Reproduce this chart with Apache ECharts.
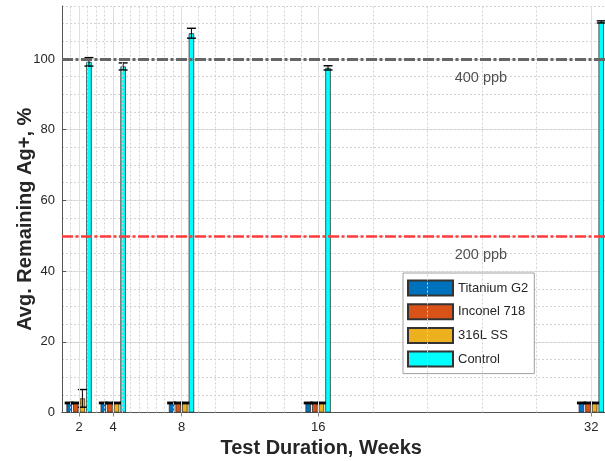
<!DOCTYPE html>
<html><head><meta charset="utf-8">
<script src="https://cdn.jsdelivr.net/npm/echarts@6/dist/echarts.min.js"></script>
<style>html,body{margin:0;padding:0;background:#fff}#c{width:605px;height:461px}</style>
</head><body><div id="c"></div>
<script>
// ---- data ----
const weeks = [2, 4, 8, 16, 32];
const seriesNames = ['Titanium G2', 'Inconel 718', '316L SS', 'Control'];
const titaniumVals = [2.7, 2.7, 2.7, 2.7, 2.7];
const inconelVals  = [2.7, 2.7, 2.7, 2.7, 2.7];
const ssVals       = [4.0, 2.7, 2.7, 2.7, 2.7];
const controlVals  = [99.2, 97.9, 107.3, 97.5, 110.5];
const titaniumErr  = [0.2, 0.2, 0.2, 0.2, 0.2];
const inconelErr   = [0.2, 0.2, 0.2, 0.2, 0.2];
const ssErr        = [2.5, 0.2, 0.2, 0.2, 0.2];
const controlErr   = [1.2, 1.0, 1.4, 0.6, 0.3];
const xTicks = [2, 4, 8, 16, 32];
const xMinorTicks = [1.5, 2.5, 3, 3.5, 4.5, 5, 5.5, 6, 6.5, 7, 7.5, 9, 10, 11, 12, 13, 14, 15, 19.2, 22.4, 25.6, 28.8];
const yTicks = [0, 20, 40, 60, 80, 100];
const refLevels = [100, 50];
const refLabels = ['400 ppb', '200 ppb'];
const refLabelX = [24, 24];
const refLabelY = [94.6, 44.6];

// ---- styles ----
const colors = ['#0072BD', '#D95319', '#EDB120', '#00FFFF'];
const refColors = ['#666666', '#FF3a3a'];
const refWidths = [3, 2.5];
const BAR_W = 5.5, GAP = 0.2;
const barOffsets = [0, 1, 2, 3].map(i => (i - 1.5) * BAR_W * (1 + GAP));
const allVals = [titaniumVals, inconelVals, ssVals, controlVals];
const allErr = [titaniumErr, inconelErr, ssErr, controlErr];
const txt = '#262626';
const FONT = 'Liberation Sans, Arial, sans-serif';

const barSeries = seriesNames.map((n, k) => ({
  name: n, type: 'bar', xAxisIndex: 0, yAxisIndex: 0, z: 3,
  barWidth: BAR_W, barGap: (GAP * 100) + '%',
  data: weeks.map((w, i) => [w, allVals[k][i]]),
  itemStyle: { color: colors[k], borderColor: '#333', borderWidth: 0.8 }
}));

const errSeries = seriesNames.map((n, k) => ({
  name: n + ' err', type: 'custom', xAxisIndex: 0, yAxisIndex: 0, z: 4, silent: true,
  data: weeks.map((w, i) => [w, allVals[k][i], allErr[k][i]]),
  encode: { x: 0, y: 1 },
  renderItem: (params, api) => {
    const x = api.value(0), v = api.value(1), e = api.value(2);
    const t = api.coord([x, v + e]), b = api.coord([x, v - e]);
    const cx = t[0] + barOffsets[k], hw = 4.5;
    const st = { stroke: '#000', lineWidth: 1 };
    return { type: 'group', children: [
      { type: 'line', shape: { x1: cx, y1: t[1], x2: cx, y2: b[1] }, style: st },
      { type: 'line', shape: { x1: cx - hw, y1: t[1], x2: cx + hw, y2: t[1] }, style: { stroke: '#000', lineWidth: 1.4 } },
      { type: 'line', shape: { x1: cx - hw, y1: b[1], x2: cx + hw, y2: b[1] }, style: { stroke: '#000', lineWidth: 1.4 } }
    ]};
  }
}));

const gridSeries = {
  name: 'vgrid', type: 'line', data: [], z: 1, silent: true, xAxisIndex: 0, yAxisIndex: 0,
  markLine: {
    symbol: 'none', silent: true, label: { show: false }, animation: false,
    data: [
      ...xMinorTicks.map(v => ({ xAxis: v, lineStyle: { color: '#d2d2d2', type: [2, 2], width: 1 } })),
      ...xTicks.map(v => ({ xAxis: v, lineStyle: { color: '#e0e0e0', type: 'solid', width: 1 } }))
    ]
  }
};

const refSeries = {
  name: 'ref', type: 'line', data: [], z: 5, silent: true, xAxisIndex: 0, yAxisIndex: 0,
  markLine: {
    symbol: 'none', silent: true, label: { show: false }, animation: false,
    data: refLevels.map((v, i) => ({ yAxis: v, lineStyle: { color: refColors[i], width: refWidths[i], type: [11, 2.5, 3, 2.5] } }))
  }
};

const refTextSeries = {
  name: 'reftext', type: 'scatter', z: 6, silent: true, symbolSize: 0, xAxisIndex: 0, yAxisIndex: 0,
  itemStyle: { color: 'transparent' },
  data: refLabels.map((l, i) => ({ value: [refLabelX[i], refLabelY[i]], label: { formatter: l } })),
  label: { show: true, position: 'right', distance: 0, fontSize: 14.5, color: txt, fontFamily: FONT }
};

const chart = echarts.init(document.getElementById('c'), null, { renderer: 'canvas' });
chart.setOption({
  animation: false,
  backgroundColor: '#fff',
  textStyle: { fontFamily: FONT },
  grid: { left: 62, right: -3.4, top: 6, bottom: 48.5, containLabel: false, outerBoundsMode: 'none' },
  legend: {
    data: seriesNames, orient: 'vertical', left: 403, top: 273,
    itemWidth: 45, itemHeight: 15, itemGap: 6.7, padding: [6.5, 6, 6, 4],
    borderColor: '#a0a0a0', borderWidth: 1, backgroundColor: '#fff',
    textStyle: { fontSize: 13, color: txt, fontFamily: FONT }, icon: 'rect'
  },
  xAxis: [
    {
      type: 'value', position: 'bottom', min: 1, max: 33,
      name: 'Test Duration, Weeks', nameLocation: 'middle', nameGap: 24,
      nameTextStyle: { fontSize: 20, fontWeight: 'bold', color: txt, fontFamily: FONT, padding: [0, 28, 0, 0] },
      axisLine: { show: true, lineStyle: { color: '#555', width: 1 } },
      axisTick: { show: true, inside: true, length: 4, customValues: xTicks, lineStyle: { color: '#555' } },
      axisLabel: { customValues: xTicks, fontSize: 13, color: txt, margin: 8, fontFamily: FONT },
      splitLine: { show: false }
    },
    {
      type: 'value', position: 'top', min: 1, max: 33,
      axisLine: { show: true, lineStyle: { color: '#555', width: 1 } },
      axisTick: { show: true, inside: true, length: 4, customValues: xTicks, lineStyle: { color: '#888' } },
      axisLabel: { show: false }, splitLine: { show: false }
    }
  ],
  yAxis: [
    {
      type: 'value', position: 'left', min: 0, max: 115, interval: 20,
      name: 'Avg. Remaining Ag+, %', nameLocation: 'middle', nameGap: 27, nameMoveOverlap: false,
      nameTextStyle: { fontSize: 20, fontWeight: 'bold', color: txt, fontFamily: FONT, padding: [0, 20, 0, 0] },
      axisLine: { show: true, lineStyle: { color: '#555', width: 1 } },
      axisTick: { show: true, inside: true, length: 4, customValues: yTicks, lineStyle: { color: '#555' } },
      axisLabel: { customValues: yTicks, fontSize: 13, color: txt, margin: 7, fontFamily: FONT },
      splitLine: { show: true, lineStyle: { color: '#e0e0e0', width: 1 } }
    },
    {
      type: 'value', position: 'left', min: 0, max: 115, interval: 5,
      axisLine: { show: false }, axisTick: { show: false }, axisLabel: { show: false },
      splitLine: { show: true, lineStyle: { color: '#d2d2d2', type: [2, 2], width: 1 } }
    }
  ],
  series: [gridSeries, ...barSeries, ...errSeries, refSeries, refTextSeries]
});
</script></body></html>
